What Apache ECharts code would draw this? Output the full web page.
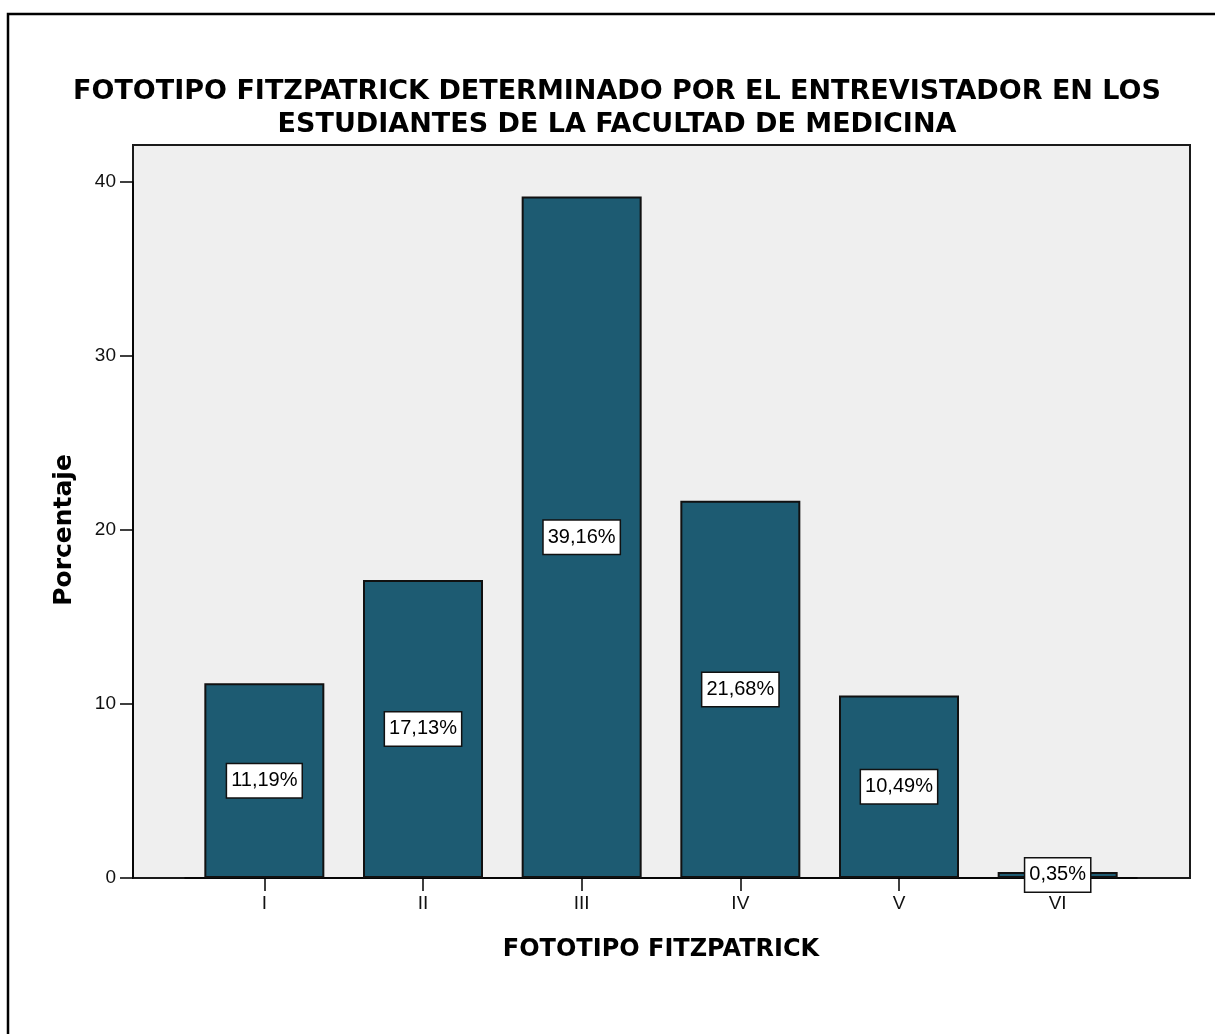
<!DOCTYPE html>
<html>
<head>
<meta charset="utf-8">
<script src="https://cdn.jsdelivr.net/npm/echarts@6/dist/echarts.min.js"></script>
<style>
html,body{margin:0;padding:0;background:#fff;}
#chart{width:1215px;height:1034px;}
</style>
</head>
<body>
<div id="chart"></div>
<script>
var titleLines = ['FOTOTIPO FITZPATRICK DETERMINADO POR EL ENTREVISTADOR EN LOS', 'ESTUDIANTES DE LA FACULTAD DE MEDICINA'];
var categories = ['I', 'II', 'III', 'IV', 'V', 'VI'];
var percentages = [11.19, 17.13, 39.16, 21.68, 10.49, 0.35];
var yTicks = [0, 10, 20, 30, 40];
var xAxisTitle = 'FOTOTIPO FITZPATRICK';
var yAxisTitle = 'Porcentaje';

var chart = echarts.init(document.getElementById('chart'), null, {renderer: 'canvas'});
var titleFont = 'DejaVu Sans';
var bodyFont = 'Liberation Sans, Arial, sans-serif';

var option = {
  backgroundColor: '#ffffff',
  animation: false,
  title: [
    {text: titleLines[0], left: 612, top: 70, textAlign: 'center',
     textStyle: {fontFamily: titleFont, fontWeight: 'bold', fontSize: 27, lineHeight: 34, color: '#000'}},
    {text: titleLines[1], left: 612, top: 103, textAlign: 'center',
     textStyle: {fontFamily: titleFont, fontWeight: 'bold', fontSize: 27, lineHeight: 34, color: '#000'}}
  ],
  graphic: [
    {type: 'rect', shape: {x: 8, y: 14, width: 1400, height: 1200}, silent: true,
     style: {fill: 'none', stroke: '#000', lineWidth: 2.5}, z: 100}
  ],
  grid: [
    {left: 133, right: 25, top: 145, bottom: 156, show: true, backgroundColor: '#efefef',
     borderColor: '#1a1a1a', borderWidth: 2},
    {left: 185, right: 78, top: 182, bottom: 156}
  ],
  xAxis: [
    {gridIndex: 0, type: 'value', show: false, min: 0, max: 1},
    {gridIndex: 1, type: 'category', data: categories, boundaryGap: true,
     axisLine: {show: true, lineStyle: {color: '#000', width: 1.5}},
     axisTick: {show: true, alignWithLabel: true, length: 13, lineStyle: {color: '#000', width: 1.5}},
     axisLabel: {margin: 16, fontFamily: bodyFont, fontSize: 19, color: '#111'},
     name: xAxisTitle, nameLocation: 'middle', nameGap: 60,
     nameTextStyle: {fontFamily: titleFont, fontWeight: 'bold', fontSize: 24, color: '#000'}}
  ],
  yAxis: [
    {gridIndex: 0, type: 'value', show: false, min: 0, max: 1},
    {gridIndex: 1, type: 'value', min: yTicks[0], max: yTicks[yTicks.length - 1], interval: 10,
     offset: 52,
     axisLine: {show: true, lineStyle: {color: '#000', width: 1.5}},
     axisTick: {show: true, length: 13, lineStyle: {color: '#000', width: 1.5}},
     axisLabel: {margin: 17, fontFamily: bodyFont, fontSize: 19, color: '#111'},
     splitLine: {show: false},
     name: yAxisTitle, nameLocation: 'middle', nameGap: 56, nameRotate: 90,
     nameTextStyle: {fontFamily: titleFont, fontWeight: 'bold', fontSize: 25, color: '#000'}}
  ],
  series: [{
    type: 'bar',
    xAxisIndex: 1, yAxisIndex: 1,
    data: percentages,
    barWidth: 120,
    itemStyle: {color: '#1d5b72', borderColor: '#111', borderWidth: 2},
    label: {
      show: true, position: 'inside',
      formatter: function (p) { return p.value.toFixed(2).replace('.', ',') + '%'; },
      fontFamily: bodyFont, fontSize: 20, color: '#000', lineHeight: 22,
      backgroundColor: '#ffffff', borderColor: '#111', borderWidth: 1.5, padding: [6, 4, 5, 4]
    }
  }]
};
chart.setOption(option);
</script>
</body>
</html>
